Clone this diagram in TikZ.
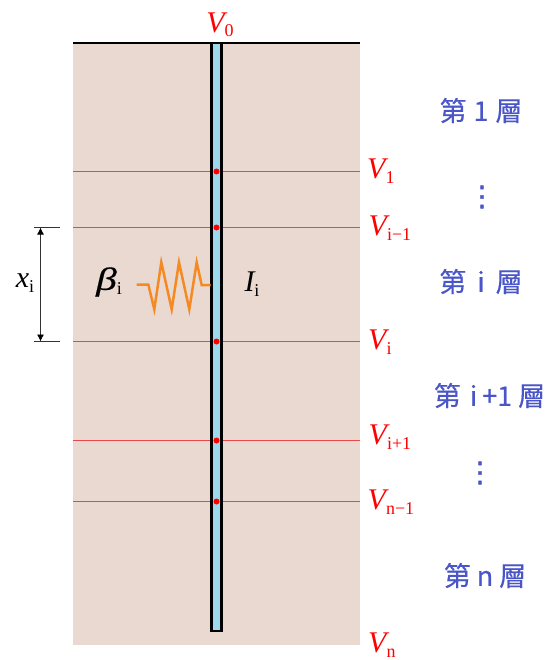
\documentclass[tikz,border=0pt]{standalone}
\usepackage{fontspec}
\setmainfont{Liberation Serif}
\newfontfamily\cjkf[FakeBold=0.4]{Noto Sans CJK TC}
\newfontfamily\dotsf[FakeBold=1.5]{DejaVu Sans}
\newfontfamily\betaf[FakeStretch=1.3,FakeBold=0.5]{Liberation Serif}
\usetikzlibrary{arrows.meta}
\definecolor{soil}{HTML}{E9D9D0}
\definecolor{pile}{HTML}{9BD9EB}
\definecolor{layer}{HTML}{4A55C8}
\definecolor{redline}{HTML}{E8484A}
\definecolor{spring}{HTML}{F58A22}
\newcommand{\sym}[2]{{\fontsize{30}{30}\selectfont\itshape #1}\raisebox{-4.5pt}{\fontsize{18}{18}\selectfont #2}}
\tikzset{
 layerline/.style={redline,line width=0.9pt},
 dot/.style={circle,fill=red,inner sep=0pt,minimum size=6pt},
 vlabel/.style={text=red,inner sep=0pt,anchor=west},
 blabel/.style={text=black,inner sep=0pt},
 layertext/.style={text=layer,inner sep=0pt,font=\cjkf\fontsize{27}{27}\selectfont},
 vdots/.style={text=layer,inner sep=0pt,font=\dotsf\fontsize{28}{28}\selectfont},
 tick/.style={black!80,line width=0.9pt},
}
\begin{document}
\begin{tikzpicture}[x=1pt,y=-1pt]
\useasboundingbox (0,0) rectangle (554,660);
\fill[soil] (73,43) rectangle (360,645);
% layer lines
\foreach \n/\y in {a/171.5,b/227.5,c/341.5,d/440.5,e/501.5}{
  \coordinate (l\n) at (73,\y);
  \coordinate (r\n) at (360,\y);
  \draw[layerline] (l\n) -- (r\n);
}
% pile
\node[draw=black,fill=pile,line width=2.6pt,inner sep=0pt,minimum width=9.5pt,minimum height=588pt] (pile) at (216.5,337) {};
\draw[black,line width=2.6pt] (73,43) coordinate (gl) -- (360,43) coordinate (gr);
\foreach \n/\y in {a/171.5,b/227.5,c/341.5,d/440.5,e/501.5}{
  \node[dot] (d\n) at (216.5,\y) {};
}
% dimension
\coordinate (t1) at (34,227.5); \coordinate (t2) at (60,227.5);
\coordinate (b1) at (34,341.5); \coordinate (b2) at (60,341.5);
\coordinate (am) at (40.5,227.5); \coordinate (bm) at (40.5,341.5);
\draw[tick] (t1) -- (t2);
\draw[tick] (b1) -- (b2);
\draw[{Latex[length=7pt,width=7pt,black]}-{Latex[length=7pt,width=7pt,black]},black!80,line width=0.9pt] (am) -- (bm);
% spring
\draw[spring,line width=2.5pt,line join=miter]
 (136.7,284.5) -- (148.3,284.5) -- (154.3,309.3) -- (161.3,262.3) -- (171.7,309.3) -- (179,262.3) -- (189.3,309.3) -- (196.7,262.3) -- (201.7,285) -- (210.7,285);
% labels
\node[blabel] (xi) at (25,283) {\sym{x}{i}};
\node[blabel] (beta) at (109,282) {{\betaf\fontsize{32}{32}\selectfont\itshape β}\raisebox{-5pt}{\fontsize{18}{18}\selectfont i}};
\node[blabel] (ii) at (252,284) {\sym{I}{i}};
\node[vlabel,anchor=center] (v0) at (220,25) {\sym{V}{0}};
\node[vlabel] (v1) at (367,171) {\sym{V}{1}};
\node[vlabel] (vim) at (368.5,228) {\sym{V}{i−1}};
\node[vlabel] (vi) at (368,342) {\sym{V}{i}};
\node[vlabel] (vip) at (368.5,437) {\sym{V}{i+1}};
\node[vlabel] (vnm) at (367.5,502) {\sym{V}{n−1}};
\node[vlabel] (vn) at (368,645) {\sym{V}{n}};
\node[layertext] (la) at (481,110.5) {第\hspace{7pt}1\hspace{7pt}層};
\node[vdots] (da) at (482,197) {⋮};
\node[layertext] (lb) at (481,281.5) {第\hspace{11pt}i\hspace{11pt}層};
\node[layertext] (lc) at (489.5,395.5) {第\hspace{9pt}i\hspace{5pt}+1\hspace{6pt}層};
\node[vdots] (db) at (480,473) {⋮};
\node[layertext] (ld) at (485,575.5) {第\hspace{6pt}n\hspace{6pt}層};
\end{tikzpicture}
\end{document}
